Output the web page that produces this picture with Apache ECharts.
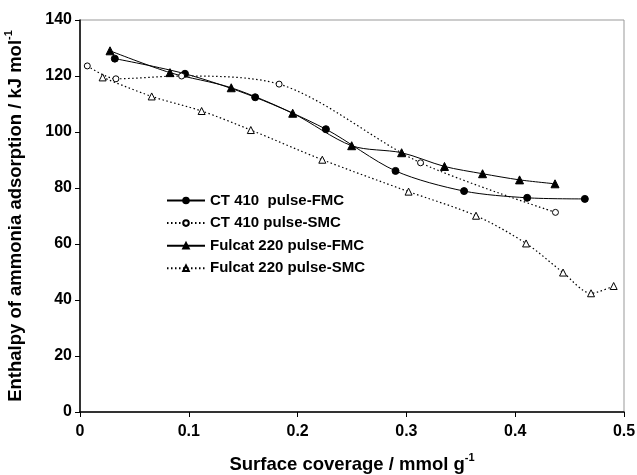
<!DOCTYPE html>
<html><head><meta charset="utf-8">
<script src="https://cdn.jsdelivr.net/npm/echarts@6/dist/echarts.min.js"></script>
<style>html,body{margin:0;padding:0;background:#fff}#c{width:637px;height:475px}</style>
</head><body><div id="c"></div>
<script>
const seriesNames = ['CT 410  pulse-FMC', 'CT 410 pulse-SMC', 'Fulcat 220 pulse-FMC', 'Fulcat 220 pulse-SMC'];
const ct410FMC_x = [0.032, 0.0965, 0.161, 0.226, 0.290, 0.353, 0.411, 0.464];
const ct410FMC_y = [126.2, 120.8, 112.4, 101.0, 86.1, 78.9, 76.5, 76.1];
const ct410SMC_x = [0.0067, 0.033, 0.0934, 0.183, 0.313, 0.437];
const ct410SMC_y = [123.6, 119.0, 120.0, 117.1, 89.0, 71.3];
const fulFMC_x = [0.0276, 0.0827, 0.139, 0.1955, 0.2497, 0.2956, 0.335, 0.370, 0.404, 0.4366];
const fulFMC_y = [129.0, 121.2, 115.8, 106.7, 95.1, 92.6, 87.7, 85.1, 82.9, 81.5];
const fulSMC_x = [0.0208, 0.0659, 0.1118, 0.157, 0.2227, 0.302, 0.364, 0.410, 0.444, 0.4697, 0.4905];
const fulSMC_y = [119.5, 112.7, 107.5, 100.7, 90.1, 78.7, 70.1, 60.2, 49.8, 42.4, 45.0];
const xTicks = [0, 0.1, 0.2, 0.3, 0.4, 0.5];
const yTicks = [0, 20, 40, 60, 80, 100, 120, 140];

const zip = (a, b) => a.map((v, i) => [v, b[i]]);
const font = 'Arial, "Liberation Sans", sans-serif';
const chart = echarts.init(document.getElementById('c'));
function mk(name, xs, ys, symbol, size, filled, dotted) {
  return {
    name, type: 'line', data: zip(xs, ys), smooth: 0.3,
    symbol, symbolSize: size, showSymbol: true,
    itemStyle: { color: filled ? '#000' : '#fff', borderColor: '#000', borderWidth: 1 },
    lineStyle: { color: '#000', width: dotted ? 1.2 : 1, type: dotted ? [1.5, 2.5] : 'solid' },
    emphasis: { disabled: true }, animation: false
  };
}
const titleRich = {
  m: { fontFamily: font, fontWeight: 'bold', fontSize: 18.5, color: '#000', lineHeight: 22, verticalAlign: 'bottom' },
  s: { fontFamily: font, fontWeight: 'bold', fontSize: 11, color: '#000', lineHeight: 22, verticalAlign: 'top' }
};
chart.setOption({
  animation: false,
  grid: { left: 80, right: 13, top: 20, bottom: 63, show: true, borderColor: '#999', borderWidth: 1,
    containLabel: false, outerBoundsMode: 'none' },
  legend: {
    orient: 'vertical', left: 166, top: 193, padding: 0, itemWidth: 38, itemHeight: 7, itemGap: 7.6,
    data: seriesNames,
    textStyle: { fontFamily: font, fontWeight: 'bold', fontSize: 15, color: '#000' }
  },
  xAxis: {
    type: 'value', min: 0, max: 0.5, interval: 0.1,
    name: '{m|Surface coverage / mmol g}{s|-1}', nameLocation: 'middle', nameGap: 40,
    nameTextStyle: { rich: titleRich },
    axisLine: { show: true, onZero: false, lineStyle: { color: '#000', width: 1.5 } },
    axisTick: { show: true, inside: false, length: 5, lineStyle: { color: '#000' } },
    splitLine: { show: false },
    axisLabel: { fontFamily: font, fontWeight: 'bold', fontSize: 16, color: '#000', margin: 12,
      formatter: v => String(Math.round(v * 10) / 10) }
  },
  yAxis: {
    type: 'value', min: 0, max: 140, interval: 20,
    name: '{m|Enthalpy of ammonia adsorption / kJ mol}{s|-1}', nameLocation: 'middle', nameGap: 55, nameRotate: 90,
    nameTextStyle: { rich: titleRich },
    axisLine: { show: true, onZero: false, lineStyle: { color: '#000', width: 1.5 } },
    axisTick: { show: true, inside: false, length: 5, lineStyle: { color: '#000' } },
    splitLine: { show: false },
    axisLabel: { fontFamily: font, fontWeight: 'bold', fontSize: 16, color: '#000', margin: 8 }
  },
  series: [
    mk(seriesNames[0], ct410FMC_x, ct410FMC_y, 'circle', 7, true, false),
    mk(seriesNames[1], ct410SMC_x, ct410SMC_y, 'circle', 6, false, true),
    mk(seriesNames[2], fulFMC_x, fulFMC_y, 'triangle', 8, true, false),
    mk(seriesNames[3], fulSMC_x, fulSMC_y, 'triangle', 7, false, true)
  ]
});
</script></body></html>
